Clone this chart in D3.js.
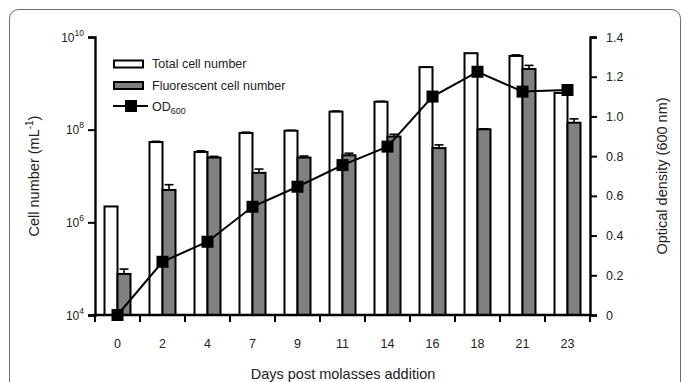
<!DOCTYPE html>
<html>
<head>
<meta charset="utf-8">
<script src="https://cdn.jsdelivr.net/npm/d3@7"></script>
<style>
  body { margin: 0; background: #fff; }
  svg { display: block; font-family: "Liberation Sans", Arial, sans-serif; }
</style>
</head>
<body>
<div id="chart"></div>
<script>
let days = ['0', '2', '4', '7', '9', '11', '14', '16', '18', '21', '23'];
let totalCells = [2.2e6, 5.4e7, 3.3e7, 8.5e7, 9.5e7, 2.45e8, 4.0e8, 2.24e9, 4.47e9, 3.9e9, 6.2e8];
let totalErr = [0, 2e6, 2e6, 3e6, 2e6, 8e6, 1e7, 0, 0, 2e8, 0];
let fluorCells = [7.7e4, 5.0e6, 2.5e7, 1.17e7, 2.5e7, 2.8e7, 7.1e7, 4.0e7, 1.02e8, 2.04e9, 1.41e8];
let fluorErr = [2.1e4, 1.5e6, 1.5e6, 2.4e6, 2e6, 3e6, 8.5e6, 7e6, 2e6, 4e8, 3e7];
let od600 = [0, 0.268, 0.369, 0.545, 0.646, 0.755, 0.848, 1.10, 1.225, 1.125, 1.133];
let leftTicks = [1e4, 1e6, 1e8, 1e10];
let rightTicks = [0, 0.2, 0.4, 0.6, 0.8, 1.0, 1.2, 1.4];

let W = 683, H = 382;
let margin = {top: 37, right: 93, bottom: 67, left: 95};

let svg = d3.select('#chart')
  .append('svg')
    .attr('width', W)
    .attr('height', H);

// frame round the figure
svg.append('rect')
  .attr('x', 9.5).attr('y', 9.5)
  .attr('width', 671).attr('height', 400)
  .attr('rx', 9).attr('ry', 9)
  .attr('fill', 'none')
  .attr('stroke', '#6e6e6e')
  .attr('stroke-width', 1);

let x = d3.scaleBand()
  .domain(days)
  .range([margin.left, W - margin.right]);

let x1 = d3.scaleBand()
  .domain(['total', 'fluor'])
  .range([9.5, 35.5]);

let y = d3.scaleLog()
  .domain([1e4, 1e10])
  .range([H - margin.bottom + 0, margin.top]);
// baseline sits at 315
y.range([315, 37]);

let yR = d3.scaleLinear()
  .domain([0, 1.4])
  .range([315, 37]);

let rows = days.map((d, i) => ({
  day: d,
  total: totalCells[i], totalErr: totalErr[i],
  fluor: fluorCells[i], fluorErr: fluorErr[i],
  od: od600[i]
}));

// bars
let groups = svg.append('g').selectAll('g')
  .data(rows)
  .enter().append('g')
    .attr('transform', d => `translate(${x(d.day)},0)`);

function errBar(sel, key, errKey, series) {
  sel.filter(d => d[errKey] > 0).each(function(d) {
    let g = d3.select(this);
    let cx = x1(series) + x1.bandwidth() / 2;
    let y0 = y(d[key]), y1 = y(d[key] + d[errKey]);
    g.append('line')
      .attr('x1', cx).attr('x2', cx)
      .attr('y1', y0).attr('y2', y1)
      .attr('stroke', '#000').attr('stroke-width', 1.6);
    g.append('line')
      .attr('x1', cx - 4.5).attr('x2', cx + 4.5)
      .attr('y1', y1).attr('y2', y1)
      .attr('stroke', '#000').attr('stroke-width', 1.6);
  });
}

errBar(groups, 'total', 'totalErr', 'total');
errBar(groups, 'fluor', 'fluorErr', 'fluor');

groups.append('rect')
  .attr('x', x1('total'))
  .attr('width', x1.bandwidth())
  .attr('y', d => y(d.total))
  .attr('height', d => y(1e4) - y(d.total))
  .attr('fill', '#fff')
  .attr('stroke', '#000')
  .attr('stroke-width', 2);

groups.append('rect')
  .attr('x', x1('fluor'))
  .attr('width', x1.bandwidth())
  .attr('y', d => y(d.fluor))
  .attr('height', d => y(1e4) - y(d.fluor))
  .attr('fill', '#808080')
  .attr('stroke', '#000')
  .attr('stroke-width', 2);

// OD600 line
let line = d3.line()
  .x(d => x(d.day) + x.bandwidth() / 2)
  .y(d => yR(d.od));

svg.append('path')
  .datum(rows)
  .attr('d', line)
  .attr('fill', 'none')
  .attr('stroke', '#000')
  .attr('stroke-width', 2);

svg.append('g').selectAll('rect')
  .data(rows)
  .enter().append('rect')
    .attr('x', d => x(d.day) + x.bandwidth() / 2 - 6)
    .attr('y', d => yR(d.od) - 6)
    .attr('width', 12).attr('height', 12)
    .attr('fill', '#000');

// X axis
let xAxis = svg.append('g')
  .attr('transform', 'translate(0,315)')
  .call(d3.axisBottom(x).tickSize(0).tickPadding(24));
xAxis.select('.domain').attr('stroke-width', 2.4)
  .attr('d', `M${margin.left - 1},0H${W - margin.right + 1}`);
xAxis.selectAll('text')
  .attr('font-size', 12.5)
  .attr('font-family', '"Liberation Sans", Arial, sans-serif')
  .attr('fill', '#222');

svg.append('g').selectAll('line')
  .data(d3.range(days.length + 1))
  .enter().append('line')
    .attr('x1', i => margin.left + i * x.step())
    .attr('x2', i => margin.left + i * x.step())
    .attr('y1', 315).attr('y2', 322)
    .attr('stroke', '#000').attr('stroke-width', 2);

// left axis
let yAxis = svg.append('g')
  .attr('transform', `translate(${margin.left},0)`)
  .call(d3.axisLeft(y).tickValues(leftTicks).tickSize(7).tickFormat(''));
yAxis.select('.domain').attr('stroke-width', 2.4);
yAxis.selectAll('.tick line').attr('stroke-width', 2);

yAxis.selectAll('.tick').each(function(d) {
  let t = d3.select(this).append('text')
    .attr('x', -11).attr('y', 4)
    .attr('text-anchor', 'end')
    .attr('fill', '#222')
    .attr('font-size', 12);
  t.append('tspan').text('10');
  t.append('tspan').attr('dy', -6).attr('font-size', 8.5)
    .text(Math.round(Math.log10(d)));
});

// right axis
let rAxis = svg.append('g')
  .attr('transform', `translate(${W - margin.right},0)`)
  .call(d3.axisRight(yR).tickValues(rightTicks).tickSize(7).tickPadding(9)
    .tickFormat(d => d === 0 ? '0' : d3.format('.1f')(d)));
rAxis.select('.domain').attr('stroke-width', 2.4);
rAxis.selectAll('.tick line').attr('stroke-width', 2);
rAxis.selectAll('text')
  .attr('font-size', 12.5)
  .attr('font-family', '"Liberation Sans", Arial, sans-serif')
  .attr('fill', '#222');

// axis titles
let lt = svg.append('text')
  .attr('transform', 'translate(39,176) rotate(-90)')
  .attr('text-anchor', 'middle')
  .attr('font-size', 14.5)
  .attr('fill', '#222');
lt.append('tspan').text('Cell number (mL');
lt.append('tspan').attr('dy', -6).attr('font-size', 10).text('-1');
lt.append('tspan').attr('dy', 6).text(')');

svg.append('text')
  .attr('transform', 'translate(667,176) rotate(-90)')
  .attr('text-anchor', 'middle')
  .attr('font-size', 14.5)
  .attr('fill', '#222')
  .text('Optical density (600 nm)');

svg.append('text')
  .attr('x', 343).attr('y', 379)
  .attr('text-anchor', 'middle')
  .attr('font-size', 14.5)
  .attr('fill', '#222')
  .text('Days post molasses addition');

// legend
let leg = svg.append('g');
leg.append('rect')
  .attr('x', 114).attr('y', 60.5).attr('width', 29).attr('height', 7)
  .attr('fill', '#fff').attr('stroke', '#000').attr('stroke-width', 2);
leg.append('text')
  .attr('x', 152).attr('y', 68).attr('font-size', 12.5).attr('fill', '#222')
  .text('Total cell number');
leg.append('rect')
  .attr('x', 114).attr('y', 82).attr('width', 29).attr('height', 7)
  .attr('fill', '#808080').attr('stroke', '#000').attr('stroke-width', 2);
leg.append('text')
  .attr('x', 152).attr('y', 89.5).attr('font-size', 12.5).attr('fill', '#222')
  .text('Fluorescent cell number');
leg.append('line')
  .attr('x1', 113).attr('x2', 148).attr('y1', 106).attr('y2', 106)
  .attr('stroke', '#000').attr('stroke-width', 2);
leg.append('rect')
  .attr('x', 125).attr('y', 100).attr('width', 12).attr('height', 12)
  .attr('fill', '#000');
let odt = leg.append('text')
  .attr('x', 152).attr('y', 111).attr('font-size', 12.5).attr('fill', '#222');
odt.append('tspan').text('OD');
odt.append('tspan').attr('dy', 3).attr('font-size', 9).text('600');
</script>
</body>
</html>
